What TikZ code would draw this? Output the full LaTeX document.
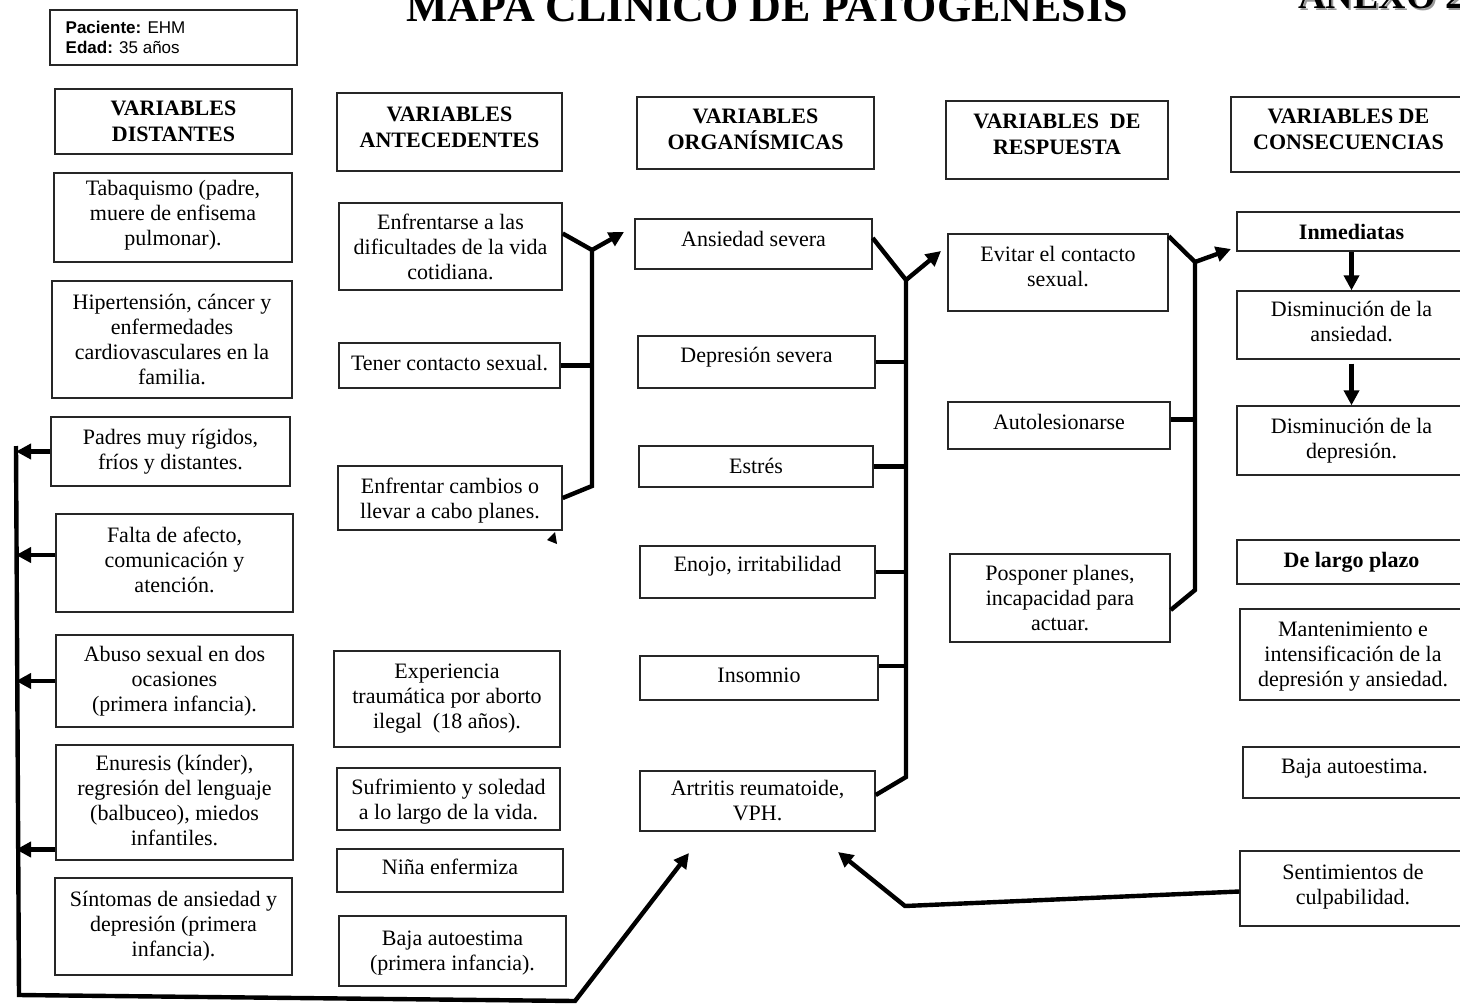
\documentclass[tikz,border=0pt]{standalone}
\usepackage{fontspec}
\setmainfont{Liberation Serif}
\setsansfont{Liberation Sans}
\usetikzlibrary{arrows.meta,fit,calc}

% #1 frame style, #2 name, #3 #4 opposite corners, #5 extra text options, #6 text
\newcommand{\mapbox}[6]{%
  \node[#1, fit={#3 #4}] (#2) {};
  \node[#1, draw=none, #5] at (#2.center) {#6};}

\begin{document}
\begin{tikzpicture}[x=0.5pt,y=-0.5pt,
  box/.style={draw=black!85, line width=0.7pt, inner sep=0pt, align=center,
              font=\fontsize{11}{12.5}\selectfont},
  head/.style={box, line width=1.3pt, font=\fontsize{11}{13}\selectfont\bfseries},
  conn/.style={line width=2.2pt, line join=miter, draw=black},
  tip/.style={-{Triangle[length=7.5pt,width=7.5pt]}},
]
\useasboundingbox (0,0) rectangle (1460,1006);
\clip (0,0) rectangle (1460,1006);
\fill[white] (0,0) rectangle (1460,1006);

% title and annex mark
\node[anchor=base, inner sep=0pt, font=\fontsize{22}{22}\selectfont\bfseries] (title) at (767,22)
  {MAPA CLÍNICO DE PATOGÉNESIS};
\node[anchor=base west, inner sep=0pt, text=black!40, font=\fontsize{19}{19}\selectfont\bfseries] (anexosh) at (1300,11) {ANEXO 2};
\node[anchor=base west, inner sep=0pt, font=\fontsize{19}{19}\selectfont\bfseries] (anexo) at (1298,9) {ANEXO 2};

% patient data
\node[box, fit={(50,10) (297,65)}] (pac) {};
\node[anchor=west, align=left, inner sep=0pt, font=\sffamily\fontsize{8.5}{10}\selectfont] (pactxt)
  at ($(pac.west)+(16,0)$) {\textbf{Paciente:} EHM\\\textbf{Edad:} 35 años};

% column headers
\mapbox{head}{h1}{(55,89)}{(292,154)}{}{VARIABLES\\DISTANTES}
\mapbox{head}{h2}{(337,93)}{(562,171)}{yshift=2.5pt}{VARIABLES\\ANTECEDENTES}
\mapbox{head}{h3}{(637,97)}{(874,169)}{yshift=2pt}{VARIABLES\\ORGANÍSMICAS}
\mapbox{head}{h4}{(946,101)}{(1168,179)}{yshift=3pt}{VARIABLES\ \ DE\\RESPUESTA}
\mapbox{head}{h5}{(1231,97)}{(1466,172)}{yshift=2.5pt}{VARIABLES DE\\CONSECUENCIAS}

% distant variables
\mapbox{box}{d1}{(54,173)}{(292,262)}{yshift=1pt}{Tabaquismo (padre,\\muere de enfisema\\pulmonar).}
\mapbox{box}{d2}{(52,281)}{(292,398)}{}{Hipertensión, cáncer y\\enfermedades\\cardiovasculares en la\\familia.}
\mapbox{box}{d3}{(51,417)}{(290,486)}{}{Padres muy rígidos,\\fríos y distantes.}
\mapbox{box}{d4}{(56,514)}{(293,612)}{yshift=1.5pt}{Falta de afecto,\\comunicación y\\atención.}
\mapbox{box}{d5}{(56,635)}{(293,727)}{}{Abuso sexual en dos\\ocasiones\\(primera infancia).}
\mapbox{box}{d6}{(56,745)}{(293,860)}{yshift=1pt}{Enuresis (kínder),\\regresión del lenguaje\\(balbuceo), miedos\\infantiles.}
\mapbox{box}{d7}{(55,878)}{(292,975)}{}{Síntomas de ansiedad y\\depresión (primera\\infancia).}

% antecedent variables
\mapbox{box}{a1}{(339,203)}{(562,290)}{}{Enfrentarse a las\\dificultades de la vida\\cotidiana.}
\mapbox{box}{a2}{(339,343)}{(560,388)}{yshift=1pt}{Tener contacto sexual.}
\mapbox{box}{a3}{(338,466)}{(562,530)}{yshift=-1.5pt}{Enfrentar cambios o\\llevar a cabo planes.}
\mapbox{box}{a4}{(334,651)}{(560,747)}{}{Experiencia\\traumática por aborto\\ilegal\ \ (18 años).}
\mapbox{box}{a5}{(337,768)}{(560,830)}{yshift=-1.5pt}{Sufrimiento y soledad\\a lo largo de la vida.}
\mapbox{box}{a6}{(337,849)}{(563,892)}{yshift=2pt}{Niña enfermiza}
\mapbox{box}{a7}{(339,916)}{(566,986)}{yshift=-1pt}{Baja autoestima\\(primera infancia).}

% organismic variables
\mapbox{box}{o1}{(635,219)}{(872,269)}{yshift=2.5pt}{Ansiedad severa}
\mapbox{box}{o2}{(638,336)}{(875,388)}{yshift=2.5pt}{Depresión severa}
\mapbox{box}{o3}{(639,446)}{(873,487)}{yshift=0.5pt}{Estrés}
\mapbox{box}{o4}{(640,546)}{(875,598)}{yshift=3pt}{Enojo, irritabilidad}
\mapbox{box}{o5}{(640,656)}{(878,700)}{yshift=1.5pt}{Insomnio}
\mapbox{box}{o6}{(640,771)}{(875,831)}{}{Artritis reumatoide,\\VPH.}

% response variables
\mapbox{box}{r1}{(948,234)}{(1168,311)}{yshift=3pt}{Evitar el contacto\\sexual.}
\mapbox{box}{r2}{(948,402)}{(1170,449)}{yshift=2pt}{Autolesionarse}
\mapbox{box}{r3}{(950,554)}{(1170,642)}{}{Posponer planes,\\incapacidad para\\actuar.}

% consequence variables
\mapbox{head}{c1}{(1237,212)}{(1466,251)}{}{Inmediatas}
\mapbox{box}{c2}{(1237,291)}{(1466,359)}{yshift=1.5pt}{Disminución de la\\ansiedad.}
\mapbox{box}{c3}{(1237,406)}{(1466,475)}{}{Disminución de la\\depresión.}
\mapbox{head}{c4}{(1237,540)}{(1466,584)}{}{De largo plazo}
\mapbox{box}{c5}{(1240,609)}{(1466,700)}{yshift=-1pt}{Mantenimiento e\\intensificación de la\\depresión y ansiedad.}
\mapbox{box}{c6}{(1243,747)}{(1466,798)}{yshift=2pt}{Baja autoestima.}
\mapbox{box}{c7}{(1240,851)}{(1466,926)}{yshift=1pt}{Sentimientos de\\culpabilidad.}

% antecedent -> organismic bracket
\coordinate (ja)  at (592,250);
\coordinate (jab) at (592,486);
\coordinate (ta)  at (624,232);
\draw[conn] ([yshift=6.5pt]a1.east) -- (ja) -- (jab) -- (a3.east);
\draw[conn] (a2.east) -- (a2.east -| ja);
\draw[conn,tip] (ja) -- (ta);
\fill (547,540) -- (557,544) -- (555,532) -- cycle;

% organismic -> response bracket
\coordinate (jo)  at (906,280);
\coordinate (job) at (906,777);
\coordinate (to)  at (941,251);
\draw[conn] ([yshift=3pt]o1.east) -- (jo) -- (job) -- ([yshift=3pt]o6.east);
\draw[conn] (o2.east) -- (o2.east -| jo);
\draw[conn] (o3.east) -- (o3.east -| jo);
\draw[conn] (o4.east) -- (o4.east -| jo);
\draw[conn] ($(o5.east)+(0,-12)$) -- ($(o5.east -| jo)+(0,-12)$);
\draw[conn,tip] (jo) -- (to);

% response -> consequence bracket
\coordinate (jr)  at (1195,262);
\coordinate (jrb) at (1195,590);
\coordinate (tr)  at (1231,249);
\draw[conn] ([yshift=-1.5pt]r1.north east) -- (jr) -- (jrb) -- ([yshift=-6pt]r3.east);
\draw[conn] ($(r2.east)+(0,-6)$) -- ($(r2.east -| jr)+(0,-6)$);
\draw[conn,tip] (jr) -- (tr);

% immediate consequences chain
\draw[conn,tip] (c1.south) -- (c2.north);
\draw[conn,tip] ([yshift=-2pt]c2.south) -- (c3.north);

% feedback from distant variables to the organismic column
\coordinate (lt) at (16,446);
\coordinate (lb) at (19,995);
\coordinate (lc) at (575,1001);
\coordinate (lo) at (689,853);
\draw[conn,tip] (lt) -- (lb) -- (lc) -- (lo);
\draw[conn,tip] (d3.west) -- (d3.west -| lt);
\draw[conn,tip] ($(d4.west)+(0,-8)$) -- ($(d4.west -| lt)+(0,-8)$);
\draw[conn,tip] (d5.west) -- (d5.west -| lt);
\draw[conn,tip] ($(d6.west)+(0,47)$) -- ($(d6.west -| lt)+(0,47)$);

% guilt feeds back to the organismic column
\coordinate (sc) at (905,906);
\coordinate (st) at (838,852);
\draw[conn,tip] ($(c7.west)+(0,3)$) -- (sc) -- (st);
\end{tikzpicture}
\end{document}
